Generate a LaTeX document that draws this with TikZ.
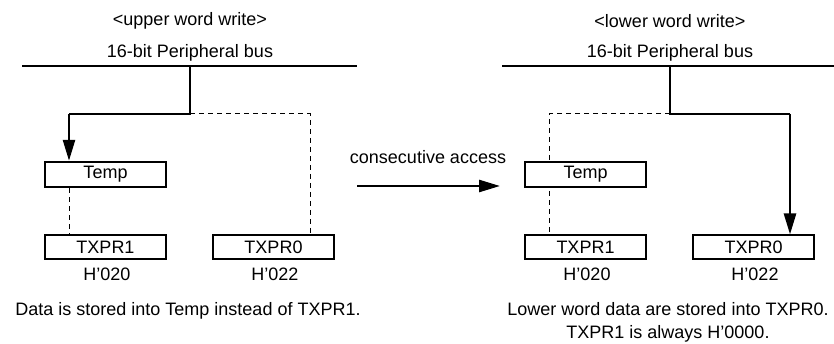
\documentclass[tikz,border=0pt]{standalone}
\usepackage{fontspec}
\setmainfont{Liberation Sans}
\usetikzlibrary{arrows.meta}
\newcommand{\apo}{\symbol{39}}
\begin{document}
\begin{tikzpicture}[x=1pt,y=-1pt,
  lbl/.style={inner sep=0pt,font=\fontsize{18}{23}\selectfont,align=center},
  tempbox/.style={draw,line width=2.4pt,fill=white,minimum width=121pt,minimum height=25pt,inner sep=0pt,font=\fontsize{18}{22}\selectfont},
  regbox/.style={draw,line width=1.1pt,fill=white,minimum width=121pt,minimum height=24pt,inner sep=0pt,font=\fontsize{18}{22}\selectfont},
  busline/.style={line width=2.6pt},
  dataline/.style={line width=2.6pt},
  dataarrow/.style={line width=2.6pt,-{Triangle[length=21pt,width=12pt]}},
  dashline/.style={line width=1pt,dash pattern=on 5pt off 4pt}]
\useasboundingbox (0,0) rectangle (834,344);

% ---------- left panel ----------
\node[lbl] (titleL) at (190,21) {<upper word write>};
\node[lbl] (busLlbl) at (190,53) {16-bit Peripheral bus};
\coordinate (busLa) at (22,66);
\coordinate (busLb) at (357,66);
\coordinate (jL) at (190,66);
\coordinate (cL) at (190,114);
\coordinate (cLl) at (69,114);
\coordinate (cLr) at (310,114);
\node[tempbox] (tempL) at (105.5,174.5) {Temp};
\node[regbox] (r1L) at (105.5,247) {TXPR1};
\node[regbox] (r0L) at (273.5,247) {TXPR0};
\node[lbl] (a1L) at (107,274) {H\apo 020};
\node[lbl] (a0L) at (275,274) {H\apo 022};
\node[lbl] (noteL) at (188,311) {Data is stored into Temp instead of TXPR1.};

\draw[busline] (busLa) -- (busLb);
\draw[dashline] (cL) -- (cLr) -- (cLr |- r0L.north);
\draw[dashline] (cLl |- tempL.south) -- (cLl |- r1L.north);
\draw[dataline,line join=miter] (jL) -- (cL) -- (cLl);
\draw[dataarrow] (cLl) -- (cLl |- tempL.north);

% ---------- middle arrow ----------
\node[lbl] (cons) at (428,157) {consecutive access};
\coordinate (mA) at (357,186);
\coordinate (mB) at (500,186);
\draw[dataarrow] (mA) -- (mB);

% ---------- right panel ----------
\node[lbl] (titleR) at (670,21) {<lower word write>};
\node[lbl] (busRlbl) at (670,53) {16-bit Peripheral bus};
\coordinate (busRa) at (502,66);
\coordinate (busRb) at (834,66);
\coordinate (jR) at (670,66);
\coordinate (cR) at (670,114);
\coordinate (cRl) at (549,114);
\coordinate (cRr) at (790,114);
\draw[dashline] (cR) -- (cRl) -- (cRl |- r1L.north);
\node[tempbox] (tempR) at (585.5,174.5) {Temp};
\node[regbox] (r1R) at (585.5,247) {TXPR1};
\node[regbox] (r0R) at (753.5,247) {TXPR0};
\node[lbl] (a1R) at (587,274) {H\apo 020};
\node[lbl] (a0R) at (755,274) {H\apo 022};
\node[lbl] (noteR) at (668,322) {Lower word data are stored into TXPR0.\\TXPR1 is always H\apo 0000.};

\draw[busline] (busRa) -- (busRb);
\draw[dataline,line join=miter] (jR) -- (cR) -- (cRr);
\draw[dataarrow] (cRr) -- (cRr |- r0R.north);
\end{tikzpicture}
\end{document}
